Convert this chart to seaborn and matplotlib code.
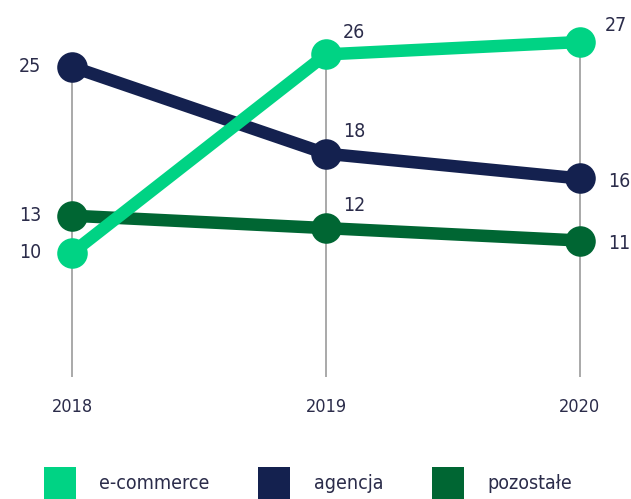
import pandas as pd
import seaborn as sns
import matplotlib.pyplot as plt
from matplotlib import font_manager
from matplotlib.patches import Patch

# dane
years = [2018, 2019, 2020]
ecommerce = [10, 26, 27]
agencja = [25, 18, 16]
pozostale = [13, 12, 11]
series_names = ['e-commerce', 'agencja', 'pozostałe']
colors = ['#00d384', '#14214f', '#006633']

TEXT = '#2b2c4a'


def build_frame():
    rows = []
    for name, vals in zip(series_names, [ecommerce, agencja, pozostale]):
        for y, v in zip(years, vals):
            rows.append({'rok': y, 'wartosc': v, 'seria': name})
    return pd.DataFrame(rows)


def pick_font():
    names = {f.name: f for f in font_manager.fontManager.ttflist}
    if 'Liberation Sans Narrow' in names:
        return ['Liberation Sans Narrow', 'DejaVu Sans'], 'normal'
    for f in font_manager.fontManager.ttflist:
        if f.name == 'DejaVu Sans' and 'Condensed' in f.fname:
            return ['DejaVu Sans'], 'condensed'
    return ['DejaVu Sans'], 'normal'


def main():
    sns.set_style('white')
    fam, stretch = pick_font()
    plt.rcParams['font.family'] = fam
    plt.rcParams['font.stretch'] = stretch

    df = build_frame()
    palette = dict(zip(series_names, colors))

    fig = plt.figure(figsize=(6.31, 4.99), dpi=100)
    ax = fig.add_axes([0, 1 - 377 / 499, 1, 377 / 499])

    # szare pionowe linie
    tops = df.groupby('rok')['wartosc'].max()
    ax.vlines(tops.index, 0, tops.values, color='#a3a3a3', lw=1.3, zorder=0)

    sns.lineplot(data=df, x='rok', y='wartosc', hue='seria',
                 hue_order=['pozostałe', 'agencja', 'e-commerce'],
                 palette=palette, marker='o', markersize=22,
                 markeredgewidth=0, linewidth=9, legend=False, ax=ax,
                 zorder=3)

    # etykiety wartości
    for name, vals in zip(series_names, [ecommerce, agencja, pozostale]):
        for y, v in zip(years, vals):
            if y == years[0]:
                off, ha = (-22, 0), 'right'
            elif y == years[1]:
                off, ha = (12, 16), 'left'
            elif v == tops[y]:
                off, ha = (18, 12), 'left'
            else:
                off, ha = (20, -2), 'left'
            ax.annotate(str(v), (y, v), xytext=off, textcoords='offset points',
                        ha=ha, va='center', fontsize=14, color=TEXT)

    ax.set_xlim(2018 - 72 / 254, 2018 + (631 - 72) / 254)
    ax.set_ylim(0, 377 / 12.407)
    ax.set_xticks(years)
    ax.set_xticklabels([str(y) for y in years], fontsize=13, color=TEXT)
    ax.set_yticks([])
    ax.tick_params(axis='x', length=0, pad=15)
    ax.set_xlabel('')
    ax.set_ylabel('')
    sns.despine(ax=ax, left=True, bottom=True)

    handles = [Patch(facecolor=c, edgecolor='none') for c in colors]
    fig.legend(handles, series_names, loc='upper left',
               bbox_to_anchor=(44 / 631, 1 - 467 / 499), ncol=3,
               frameon=False, borderpad=0, borderaxespad=0,
               handlelength=1.65, handleheight=2.2, handletextpad=1.2,
               columnspacing=2.5, fontsize=14, labelcolor=TEXT)

    fig.savefig('out.png', dpi=100)


if __name__ == '__main__':
    main()
